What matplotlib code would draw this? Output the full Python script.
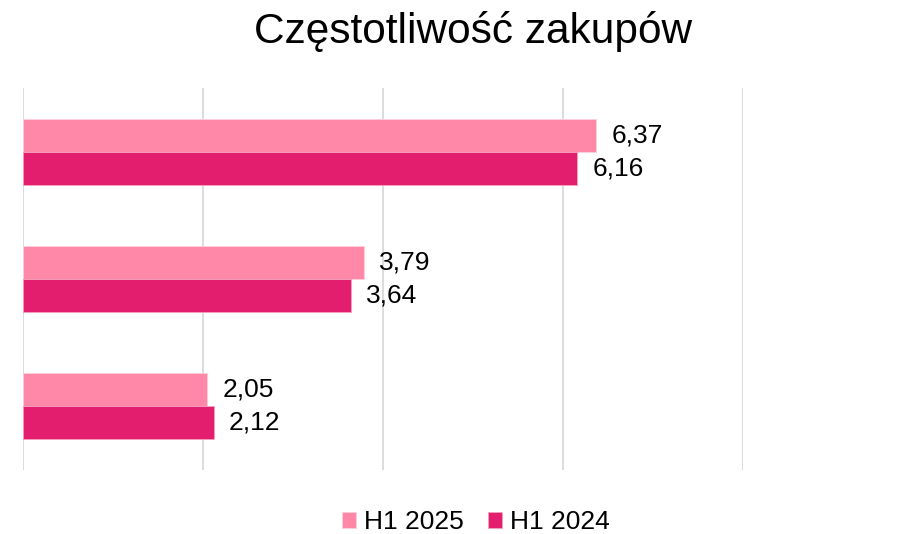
import matplotlib.pyplot as plt
import numpy as np

plt.rcParams['font.family'] = ['Liberation Sans', 'DejaVu Sans']

# data (top group first)
groups = ["A", "B", "C"]
h1_2025 = [6.37, 3.79, 2.05]
h1_2024 = [6.16, 3.64, 2.12]
series_names = ["H1 2025", "H1 2024"]

col_2025 = "#FF88A8"
col_2024 = "#E31E6E"

fig = plt.figure(figsize=(9.1, 5.34), dpi=100)
ax = fig.add_axes([23 / 910, 1 - 470 / 534, 720 / 910, 382 / 534])

y = np.arange(len(groups))[::-1]
h = 0.26
b1 = ax.barh(y + h / 2, h1_2025, height=h, color=col_2025, edgecolor="#ffd0dc", linewidth=0.6,
             label=series_names[0], zorder=3)
b2 = ax.barh(y - h / 2, h1_2024, height=h, color=col_2024, edgecolor="#f5a0bd", linewidth=0.6,
             label=series_names[1], zorder=3)

# value labels with decimal comma
for bars in (b1, b2):
    for rect in bars:
        w = rect.get_width()
        ax.annotate(f"{w:.2f}".replace(".", ","),
                    xy=(w, rect.get_y() + rect.get_height() / 2),
                    xytext=(15, 0), textcoords="offset pixels",
                    ha="left", va="center", fontsize=19, color="black")

ax.set_xlim(0, 8)
ax.set_ylim(-0.5, 2.5)
ax.set_xticks([0, 2, 4, 6, 8])
ax.set_yticks([])
ax.tick_params(axis="x", length=0, labelbottom=False)
ax.grid(axis="x", color="#d9d9d9", linewidth=1.3, zorder=0)
for s in ax.spines.values():
    s.set_visible(False)

fig.text(473 / 910, 1 - 32 / 534, "Częstotliwość zakupów", ha="center", va="center",
         fontsize=30.5, color="black")

fig.legend(handles=[b1, b2], labels=series_names, loc="center", ncol=2,
           bbox_to_anchor=(476 / 910, 1 - 522 / 534), frameon=False, fontsize=19,
           handlelength=0.55, handleheight=0.55, handletextpad=0.3, columnspacing=0.9)

fig.savefig("out.png", dpi=100)
